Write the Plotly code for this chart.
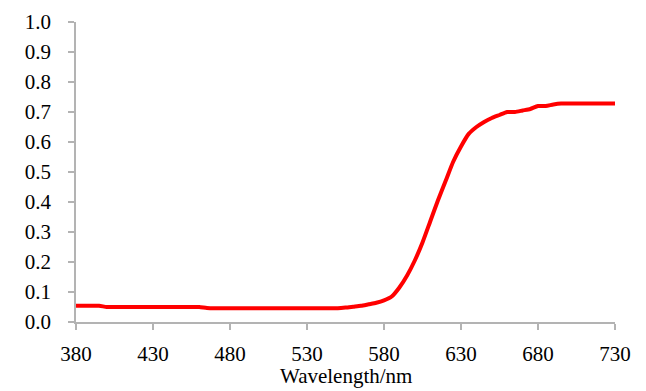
import plotly.graph_objects as go

wavelength = list(range(380, 735, 5))
reflectance = [
    0.054, 0.054, 0.054, 0.054,            # 380-395
    0.050, 0.050, 0.050, 0.050, 0.050, 0.050, 0.050, 0.050,  # 400-435
    0.050, 0.050, 0.050, 0.050, 0.050,     # 440-460
    0.047, 0.046, 0.046, 0.046, 0.046, 0.046, 0.046, 0.046,  # 465-500
    0.046, 0.046, 0.046, 0.046, 0.046, 0.046, 0.046, 0.046,  # 505-540
    0.046, 0.046,                          # 545-550
    0.048, 0.051, 0.054, 0.059, 0.064, 0.072, 0.085, 0.115,  # 555-590
    0.155, 0.205, 0.265, 0.335, 0.405, 0.470, 0.535, 0.585,  # 595-630
    0.627, 0.650, 0.667, 0.680, 0.690, 0.700, 0.700, 0.705,  # 635-670
    0.710, 0.720, 0.720, 0.725, 0.728, 0.728, 0.728, 0.728,  # 675-710
    0.728, 0.728, 0.728, 0.728,            # 715-730
]
x_ticks = list(range(380, 731, 50))
y_ticks = [i / 10 for i in range(11)]
x_title = "Wavelength/nm"

fig = go.Figure()
fig.add_trace(go.Scatter(
    x=wavelength, y=reflectance, mode="lines",
    line=dict(color="#FF0000", width=4, shape="spline", smoothing=0.6),
    showlegend=False,
))

font = dict(family="Liberation Serif, Times New Roman, serif", size=21, color="black")
axis_color = "#b3b3b3"

# page body has an 8px default margin, so the figure is offset by 8px
fig.update_layout(
    width=638, height=383,
    margin=dict(l=68, r=31, t=14, b=69),
    paper_bgcolor="white", plot_bgcolor="white",
    font=font,
    xaxis=dict(
        range=[380, 730], tickvals=x_ticks, ticktext=[str(v) for v in x_ticks],
        showgrid=False, zeroline=False, showline=True, linecolor=axis_color, linewidth=1.5,
        ticks="outside", ticklen=6, tickwidth=1.5, tickcolor=axis_color,
        ticklabelstandoff=6, automargin=False,
    ),
    yaxis=dict(
        range=[0, 1], tickvals=y_ticks, ticktext=[f"{v:.1f}" for v in y_ticks],
        showgrid=False, zeroline=False, showline=True, linecolor=axis_color, linewidth=1.5,
        ticks="outside", ticklen=6, tickwidth=1.5, tickcolor=axis_color,
        ticklabelstandoff=13, automargin=False,
    ),
    annotations=[dict(
        text=x_title, xref="paper", yref="paper", x=0.5, y=0,
        xanchor="center", yanchor="top", yshift=-40, showarrow=False, font=font,
    )],
)

fig.write_html("out.html")
